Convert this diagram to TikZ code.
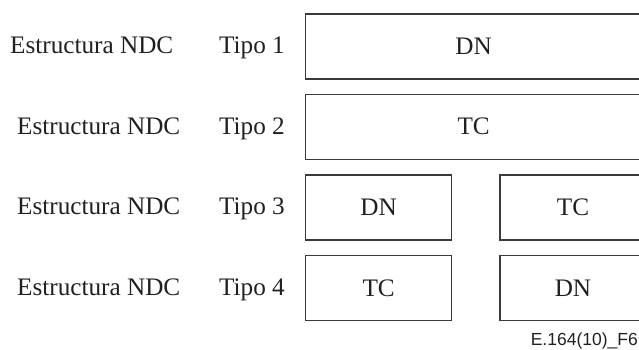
\documentclass[tikz,border=0pt]{standalone}
\usepackage{fontspec}
\setmainfont{Liberation Serif}
\newfontfamily\figfont{Liberation Sans}
\usepackage{xcolor}
\usepackage{tikz}
\usetikzlibrary{positioning}

\definecolor{framegray}{HTML}{3A3A3A}
\definecolor{inkgray}{HTML}{231F20}

\begin{document}
\begin{tikzpicture}[x=1pt,y=-1pt,node distance=47pt,
                    every node/.style={text=inkgray,font=\fontsize{25.2}{28}\selectfont},
                    field/.style={draw=framegray,line width=1.3pt,minimum height=65pt,inner sep=0pt,anchor=west},
                    wide field/.style={field,minimum width=336pt},
                    short field/.style={field,minimum width=146pt},
                    rowlabel/.style={anchor=base west,inner sep=0pt}]

    \useasboundingbox (0,0) rectangle (639,349);
    \clip (0,0) rectangle (639,349);

    % row labels
    \node[rowlabel] (ndc1) at (10,53.5) {Estructura NDC};
    \node[rowlabel] (tipo1) at (219,53.5) {Tipo 1};
    \node[rowlabel] (ndc2) at (17,134.5) {Estructura NDC};
    \node[rowlabel] (tipo2) at (219,134.5) {Tipo 2};
    \node[rowlabel] (ndc3) at (17,214.5) {Estructura NDC};
    \node[rowlabel] (tipo3) at (219,214.5) {Tipo 3};
    \node[rowlabel] (ndc4) at (17,295) {Estructura NDC};
    \node[rowlabel] (tipo4) at (219,295) {Tipo 4};

    % fields
    \node[wide field] (dn1) at (305,46.5) {DN};
    \node[wide field] (tc2) at (305,126.7) {TC};
    \node[short field] (dn3) at (305,207.5) {DN};
    \node[short field] (tc3) [right=of dn3] {TC};
    \node[short field] (tc4) at (305,288.3) {TC};
    \node[short field] (dn4) [right=of tc4] {DN};

    \node[anchor=base east,inner sep=0pt,font=\figfont\fontsize{17.5}{19}\selectfont] (figref) at (638,345) {E.164(10)\_F6};
\end{tikzpicture}
\end{document}
